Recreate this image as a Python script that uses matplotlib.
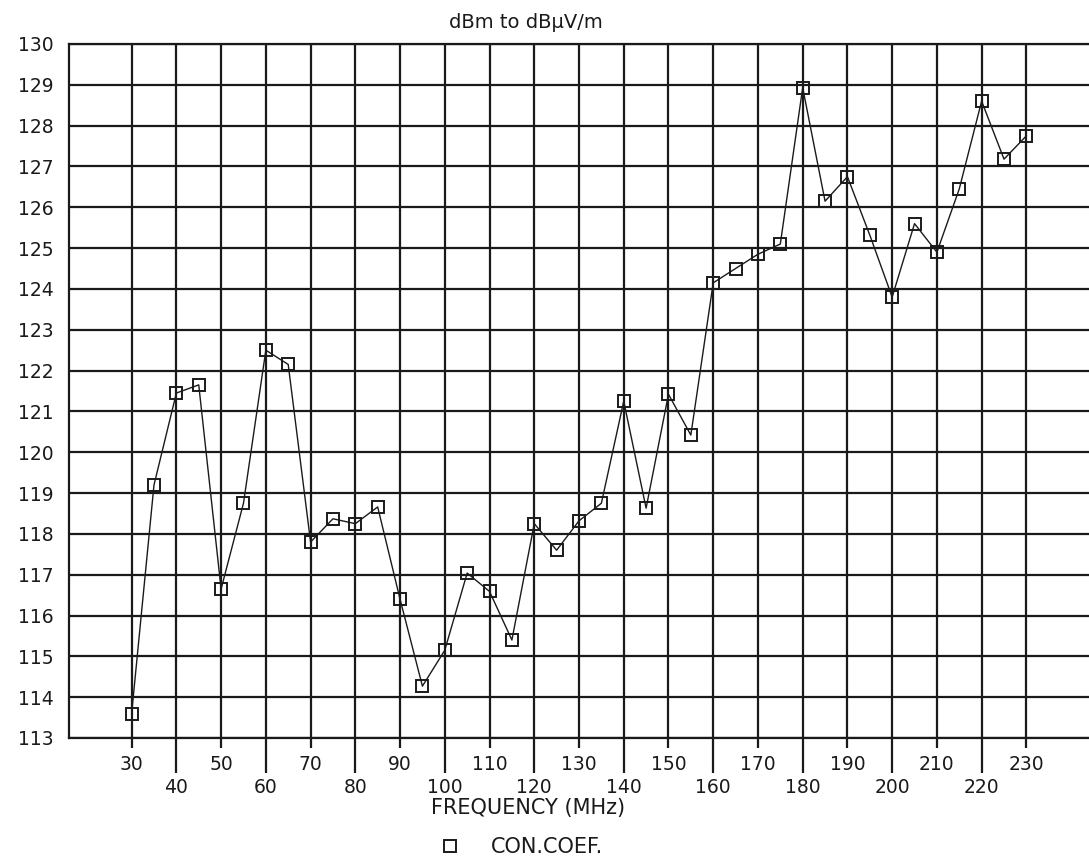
import matplotlib
matplotlib.use('Agg')
import matplotlib.pyplot as plt
from matplotlib.lines import Line2D

plt.rcParams['font.family'] = 'DejaVu Sans'

# conversion coefficient, dBm -> dBuV/m, every 5 MHz
freq = list(range(30, 235, 5))
coef = [113.6, 119.2, 121.45, 121.65, 116.65, 118.75, 122.5, 122.15,
        117.8, 118.37, 118.25, 118.66, 116.4, 114.27, 115.15, 117.04,
        116.59, 115.4, 118.25, 117.6, 118.32, 118.75, 121.25, 118.63,
        121.42, 120.42, 124.15, 124.5, 124.85, 125.1, 128.93, 126.15,
        126.75, 125.32, 123.8, 125.6, 124.9, 126.45, 128.6, 127.18,
        127.75]
xticks = list(range(30, 240, 10))
yticks = list(range(113, 131))

ink = '#1a1a1a'

fig = plt.figure(figsize=(10.89, 8.58), dpi=100)
ax = fig.add_axes([69 / 1089, 1 - 738 / 858, 1 - 69 / 1089, (738 - 44) / 858])
ax.set_xlim(16, 244)
ax.set_ylim(113, 130)

ax.plot(freq, coef, '-', color=ink, lw=1.0, zorder=3)
ax.plot(freq, coef, 's', ms=9, mfc='none', mec=ink, mew=1.4,
        ls='none', zorder=4)

ax.set_xticks(xticks)
ax.set_yticks(yticks)
ax.grid(True, color=ink, lw=1.6)
ax.set_axisbelow(True)
for side in ['left', 'top', 'bottom']:
    ax.spines[side].set_linewidth(1.6)
    ax.spines[side].set_color(ink)
ax.spines['right'].set_visible(False)

ax.tick_params(axis='y', length=0, pad=11, labelsize=13.5, labelcolor=ink)
ax.tick_params(axis='x', direction='out', length=7, width=1.6, color=ink,
               labelbottom=False)
# staggered x labels: every other tick is longer with a lower label
for i, t in enumerate(ax.xaxis.get_major_ticks()):
    if i % 2:
        t.tick1line.set_markersize(25)
for i, f in enumerate(xticks):
    ax.annotate(str(f), xy=(f, 0), xycoords=('data', 'axes fraction'),
                xytext=(0, -29 if i % 2 else -12), textcoords='offset points',
                ha='center', va='top', fontsize=13.5, color=ink)

fig.text(526 / 1089, 1 - 23 / 858, 'dBm to dBμV/m', ha='center',
         va='center', fontsize=14, color=ink)
fig.text(528 / 1089, 1 - 808 / 858, 'FREQUENCY (MHz)', ha='center',
         va='center', fontsize=15, color=ink)

handle = Line2D([], [], marker='s', ls='none', ms=8, mfc='none', mec=ink,
                mew=1.4)
fig.legend([handle], ['CON.COEF.'], loc='center left',
           bbox_to_anchor=(410 / 1089, 1 - 847 / 858), frameon=False,
           fontsize=15, handletextpad=1.0, labelcolor=ink)

fig.savefig('out.png', dpi=100)
